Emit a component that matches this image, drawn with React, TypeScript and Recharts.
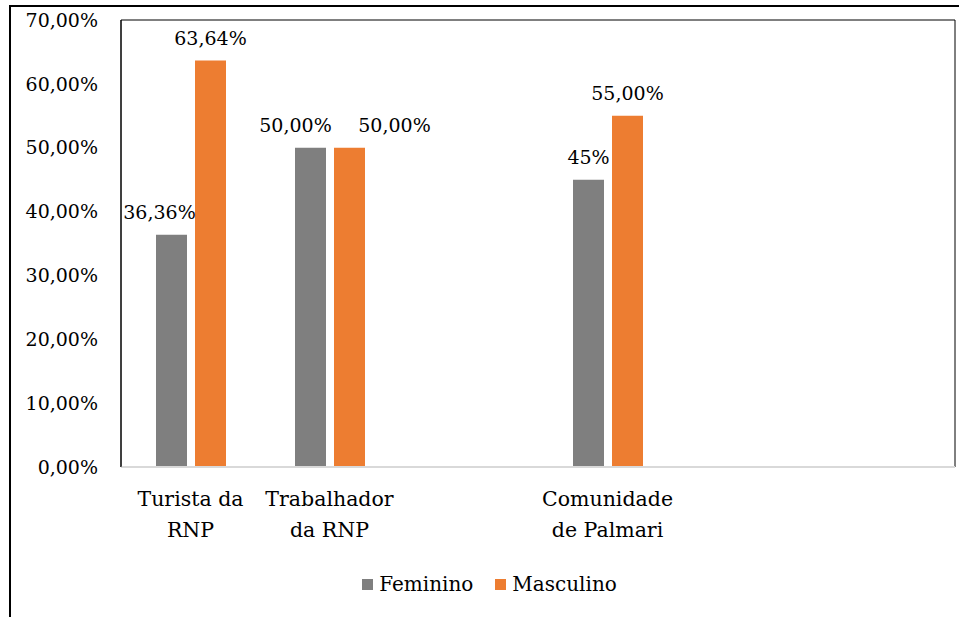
import { BarChart, Bar, XAxis, YAxis, Legend, LabelList, ReferenceArea } from "recharts";

// categorias (linhas do rótulo do eixo X); as vazias são espaços do gráfico original
const categories = ["Turista da RNP", "Trabalhador da RNP", "", "Comunidade de Palmari", "", ""];
const categoryLines = [["Turista da", "RNP"], ["Trabalhador", "da RNP"], [], ["Comunidade", "de Palmari"], [], []];
const feminino = [36.36, 50.0, null, 45.0, null, null];
const masculino = [63.64, 50.0, null, 55.0, null, null];
const femininoLabels = ["36,36%", "50,00%", "", "45%", "", ""];
const masculinoLabels = ["63,64%", "50,00%", "", "55,00%", "", ""];
const yTicks = [0, 10, 20, 30, 40, 50, 60, 70];

const GRAY = "#7f7f7f";
const ORANGE = "#ed7d31";
const FONT = "'DejaVu Serif', serif";

const data = categories.map((name, i) => ({
  name,
  lines: categoryLines[i],
  feminino: feminino[i],
  masculino: masculino[i],
  fLabel: femininoLabels[i],
  mLabel: masculinoLabels[i],
}));

// deslocamentos manuais dos rótulos (como no Excel original)
const nudgeF: Record<string, number> = { "Turista da RNP": -12, "Trabalhador da RNP": -15 };
const nudgeM: Record<string, number> = { "Trabalhador da RNP": 45 };

const fmtPct = (v: number) => `${v.toFixed(2).replace(".", ",")}%`;

function XTick({ x, y, payload }: any) {
  const row = data.find((d) => d.name === payload.value) ?? data[payload.index];
  const lines: string[] = row ? row.lines : [];
  return (
    <g>
      {lines.map((l, i) => (
        <text
          key={i}
          x={x}
          y={y + 32 + i * 31}
          dy="0.35em"
          textAnchor="middle"
          style={{ fontFamily: FONT, fontSize: 20.5 }}
          fill="#000"
        >
          {l}
        </text>
      ))}
    </g>
  );
}

function makeLabel(nudge: Record<string, number>, key: "fLabel" | "mLabel") {
  return (props: any) => {
    const { x, y, width, value } = props;
    const row = data.find((d) => d.name === value);
    if (!row || !row[key]) return null;
    const dx = nudge[row.name] ?? 0;
    return (
      <text
        x={Number(x) + Number(width) / 2 + dx}
        y={Number(y) - 22}
        dy="0.35em"
        textAnchor="middle"
        style={{ fontFamily: FONT, fontSize: 19 }}
        fill="#000"
      >
        {row[key]}
      </text>
    );
  };
}

function LegendContent() {
  const items = [
    { name: "Feminino", color: GRAY },
    { name: "Masculino", color: ORANGE },
  ];
  return (
    <div
      style={{
        display: "flex",
        justifyContent: "center",
        gap: 22,
        paddingLeft: 24,
        fontFamily: FONT,
        fontSize: 20,
        lineHeight: "24px",
      }}
    >
      {items.map((it) => (
        <div key={it.name} style={{ display: "flex", alignItems: "center", gap: 6 }}>
          <span style={{ width: 11, height: 11, background: it.color, display: "inline-block" }} />
          <span>{it.name}</span>
        </div>
      ))}
    </div>
  );
}

export default function App() {
  return (
    <div style={{ position: "absolute", left: 0, top: 0, width: 959, height: 617, background: "#fff", fontFamily: FONT }}>
      <div
        style={{
          position: "absolute",
          left: 9,
          top: 5,
          right: 0,
          bottom: 0,
          borderTop: "2px solid #000",
          borderLeft: "2px solid #000",
        }}
      />
      <div style={{ position: "absolute", left: 0, top: 0 }}>
        <BarChart
          width={959}
          height={617}
          data={data}
          margin={{ top: 20, right: 4, left: 0, bottom: 21 }}
          barSize={31}
          barGap={8}
          style={{ fontFamily: FONT }}
        >
          {/* moldura da área de plotagem */}
          <ReferenceArea y1={0} y2={70} fill="none" stroke="#000" strokeWidth={1} />
          <XAxis
            dataKey="name"
            axisLine={{ stroke: "#d9d9d9", strokeWidth: 2 }}
            tickLine={false}
            tickSize={0}
            tickMargin={0}
            height={105}
            interval={0}
            tick={<XTick />}
          />
          <YAxis
            domain={[0, 70]}
            ticks={yTicks}
            tickFormatter={fmtPct}
            width={121}
            tickLine={false}
            tickSize={0}
            tickMargin={23}
            axisLine={{ stroke: "#000", strokeWidth: 1 }}
            tick={{ style: { fontFamily: FONT, fontSize: 19 }, fill: "#000" }}
          />
          <Legend verticalAlign="bottom" height={24} content={<LegendContent />} />
          <Bar dataKey="feminino" name="Feminino" fill={GRAY} isAnimationActive={false}>
            <LabelList dataKey="name" content={makeLabel(nudgeF, "fLabel")} />
          </Bar>
          <Bar dataKey="masculino" name="Masculino" fill={ORANGE} isAnimationActive={false}>
            <LabelList dataKey="name" content={makeLabel(nudgeM, "mLabel")} />
          </Bar>
        </BarChart>
      </div>
    </div>
  );
}
